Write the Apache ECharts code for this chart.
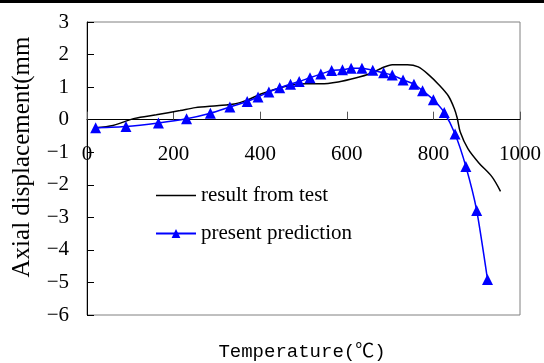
<!DOCTYPE html>
<html>
<head>
<meta charset="utf-8">
<script src="https://cdn.jsdelivr.net/npm/echarts@6/dist/echarts.min.js"></script>
<style>html,body{margin:0;padding:0;background:#fff}#c{width:544px;height:363px}</style>
</head>
<body>
<div id="c"></div>
<script>
// Data
const testTemp = [20, 60, 110, 160, 215, 250, 300, 340, 370, 400, 445, 475, 505, 540, 580, 620, 655, 680, 705, 740, 765, 790, 812, 835, 848, 855, 862, 880, 905, 935, 955];
const testDisp = [-0.25, -0.18, 0.04, 0.15, 0.28, 0.37, 0.43, 0.48, 0.6, 0.78, 0.97, 1.07, 1.1, 1.1, 1.16, 1.28, 1.42, 1.58, 1.69, 1.69, 1.62, 1.37, 1.08, 0.72, 0.35, 0.05, -0.38, -0.9, -1.33, -1.75, -2.2];
const predTemp = [20, 90, 165, 230, 285, 330, 370, 395, 420, 445, 470, 490, 515, 540, 565, 590, 610, 635, 660, 685, 705, 730, 755, 775, 800, 825, 850, 875, 900, 925];
const predDisp = [-0.25, -0.21, -0.1, 0.03, 0.2, 0.39, 0.56, 0.7, 0.85, 0.98, 1.09, 1.17, 1.29, 1.4, 1.51, 1.53, 1.58, 1.58, 1.52, 1.44, 1.37, 1.22, 1.09, 0.89, 0.61, 0.22, -0.44, -1.44, -2.79, -4.91];
const seriesNames = ['result from test', 'present prediction'];
const xTicks = [0, 200, 400, 600, 800, 1000];
const yTicks = [-6, -5, -4, -3, -2, -1, 0, 1, 2, 3];
const xTitle = 'Temperature(℃)';
const yTitle = 'Axial displacement(mm';

const serif = "'Liberation Serif', 'Times New Roman', serif";
const gridTop = 22, gridBottom = 48, H = 363;
const yMin = yTicks[0], yMax = yTicks[yTicks.length - 1];
const plotH = H - gridTop - gridBottom;
// move the x axis up so it sits on the zero line
const xAxisOffset = -plotH * (0 - yMin) / (yMax - yMin);
// plain line legend icon (thin bar in the middle of the icon box)
const lineIcon = 'path://M0,0h0.01v0.01h-0.01z M0,4.8h40v1.5h-40z M0,10.99h0.01v0.01h-0.01z';

const chart = echarts.init(document.getElementById('c'), null, {renderer: 'canvas'});
chart.setOption({
  animation: false,
  backgroundColor: '#fff',
  grid: {left: 87, right: 24, top: gridTop, bottom: gridBottom, show: true, borderColor: '#808080', borderWidth: 1, containLabel: false},
  xAxis: {
    type: 'value', min: xTicks[0], max: xTicks[xTicks.length - 1], interval: 200,
    position: 'bottom', offset: xAxisOffset,
    axisLine: {show: true, onZero: false, lineStyle: {color: '#000', width: 1}},
    axisTick: {show: true, inside: true, length: 8, lineStyle: {color: '#555'}},
    axisLabel: {margin: 24, color: '#000', fontFamily: serif, fontSize: 21, showMinLabel: true, showMaxLabel: true,
      formatter: v => String(v)},
    splitLine: {show: false}
  },
  yAxis: {
    type: 'value', min: yMin, max: yMax, interval: 1,
    axisLine: {show: true, onZero: false, lineStyle: {color: '#000', width: 1}},
    axisTick: {show: true, inside: true, length: 7, lineStyle: {color: '#000'}},
    axisLabel: {margin: 18, color: '#000', fontFamily: serif, fontSize: 21, padding: [8, 0, 0, 0],
      formatter: v => v < 0 ? '\u2212' + Math.abs(v) : String(v)},
    splitLine: {show: false}
  },
  legend: {
    orient: 'vertical', left: 155, top: 185, padding: 0, itemGap: 17, itemWidth: 40, itemHeight: 11,
    data: [{name: seriesNames[0], icon: lineIcon}, {name: seriesNames[1]}],
    textStyle: {color: '#000', fontFamily: serif, fontSize: 21}
  },
  graphic: [
    {type: 'rect', left: 0, top: 0, shape: {width: 544, height: 3}, style: {fill: '#000'}, silent: true},
    {type: 'text', x: 22, y: 157, rotation: Math.PI / 2,
      style: {text: yTitle, fontFamily: serif, fontSize: 25, fill: '#000', align: 'center', verticalAlign: 'middle'}},
    {type: 'text', x: 302, y: 352,
      style: {text: xTitle, fontFamily: "'Liberation Mono', 'Noto Sans CJK SC', monospace", fontSize: 19, fill: '#000', align: 'center', verticalAlign: 'middle'}}
  ],
  series: [
    {
      name: seriesNames[0], type: 'line', smooth: 0.3, symbol: 'none',
      data: testTemp.map((t, i) => [t, testDisp[i]]),
      lineStyle: {color: '#000', width: 1.5}, itemStyle: {color: '#000'}, z: 2
    },
    {
      name: seriesNames[1], type: 'line', smooth: 0.2, symbol: 'triangle', symbolSize: 11,
      data: predTemp.map((t, i) => [t, predDisp[i]]),
      lineStyle: {color: '#0000ff', width: 1.5}, itemStyle: {color: '#0000ff'}, z: 3
    }
  ]
});
</script>
</body>
</html>
